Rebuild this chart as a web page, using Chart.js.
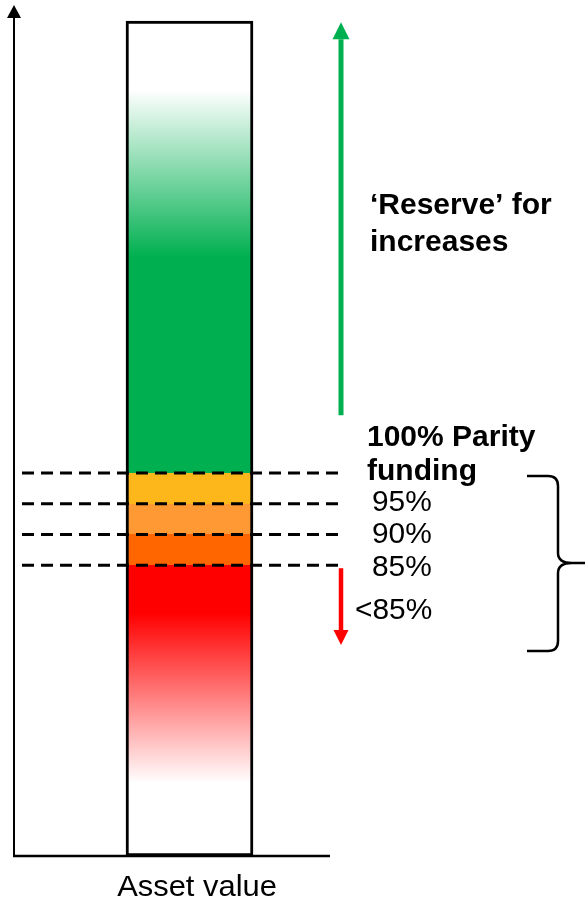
<!DOCTYPE html>
<html>
<head>
<meta charset="utf-8">
<script src="https://cdn.jsdelivr.net/npm/chart.js@4"></script>
<style>
  html, body { margin: 0; padding: 0; background: #fff; }
  #wrap { width: 585px; height: 899px; position: relative; }
</style>
</head>
<body>
<div id="wrap"><canvas id="assetChart"></canvas></div>
<script>
// bar: asset value, expressed as % of parity funding
let categories = ['Asset value'];
let barRange = [37.7, 173.5];
let axisRange = [37.7, 176.1];

// funding levels drawn as dashed lines
let fundingLevels = [100, 95, 90, 85];
let fundingLabels = ['95%', '90%', '85%'];

// colour stops of the bar fill (value -> colour)
let fillStops  = [173.5, 162.3, 135.1, 100, 100, 95, 95, 90, 90, 85, 85, 77.2, 49.6, 37.7];
let fillColors = ['#ffffff', '#ffffff', '#00b050', '#00b050',
                  '#fdb71a', '#fdb71a', '#ff9933', '#ff9933',
                  '#ff6600', '#ff6600', '#ff0000', '#ff0000',
                  '#ffffff', '#ffffff'];

// arrows (from, to)
let reserveArrow = [109.4, 173.3];
let deficitArrow = [84.5, 72.0];

function barFill(context){
    let chart = context.chart;
    let area = chart.chartArea;
    if(!area || !chart.scales.y){
        return '#00b050';
    }
    let y = chart.scales.y;
    let yTop = y.getPixelForValue(fillStops[0]);
    let yBot = y.getPixelForValue(fillStops[fillStops.length - 1]);
    let g = chart.ctx.createLinearGradient(0, yTop, 0, yBot);
    for(let i = 0; i < fillStops.length; i++){
        let off = (y.getPixelForValue(fillStops[i]) - yTop) / (yBot - yTop);
        g.addColorStop(Math.min(1, Math.max(0, off)), fillColors[i]);
    }
    return g;
}

function drawText(ctx, str, x, y, font, sx, align){
    ctx.save();
    ctx.font = font;
    ctx.fillStyle = '#000';
    ctx.textAlign = align || 'left';
    ctx.textBaseline = 'alphabetic';
    ctx.translate(x, y);
    ctx.scale(sx, 1);
    ctx.fillText(str, 0, 0);
    ctx.restore();
}

function drawArrow(ctx, x, y0, y1, color, w, headW, headL){
    let dir = y1 < y0 ? -1 : 1;
    ctx.save();
    ctx.strokeStyle = color;
    ctx.fillStyle = color;
    ctx.lineWidth = w;
    ctx.beginPath();
    ctx.moveTo(x, y0);
    ctx.lineTo(x, y1 - dir * headL);
    ctx.stroke();
    ctx.beginPath();
    ctx.moveTo(x, y1);
    ctx.lineTo(x - headW / 2, y1 - dir * headL);
    ctx.lineTo(x + headW / 2, y1 - dir * headL);
    ctx.closePath();
    ctx.fill();
    ctx.restore();
}

let annotationPlugin = {
    id: 'annotations',
    afterDatasetsDraw(chart){
        let ctx = chart.ctx;
        let area = chart.chartArea;
        let y = chart.scales.y;

        // axes
        ctx.save();
        ctx.strokeStyle = '#000';
        ctx.lineWidth = 2;
        ctx.beginPath();
        ctx.moveTo(area.left, area.bottom);
        ctx.lineTo(area.left, area.top + 10);
        ctx.stroke();
        ctx.beginPath();
        ctx.moveTo(area.left, area.top);
        ctx.lineTo(area.left - 7, area.top + 13);
        ctx.lineTo(area.left + 7, area.top + 13);
        ctx.closePath();
        ctx.fillStyle = '#000';
        ctx.fill();
        ctx.lineWidth = 2.5;
        ctx.beginPath();
        ctx.moveTo(area.left - 1, area.bottom);
        ctx.lineTo(330, area.bottom);
        ctx.stroke();

        // dashed funding lines
        ctx.setLineDash([12, 7]);
        ctx.lineWidth = 3;
        for(let i = 0; i < fundingLevels.length; i++){
            let py = y.getPixelForValue(fundingLevels[i]);
            ctx.beginPath();
            ctx.moveTo(22, py);
            ctx.lineTo(340, py);
            ctx.stroke();
        }
        ctx.restore();

        // arrows
        drawArrow(ctx, 341, y.getPixelForValue(reserveArrow[0]), y.getPixelForValue(reserveArrow[1]), '#00b050', 5, 17, 17);
        drawArrow(ctx, 341, y.getPixelForValue(deficitArrow[0]), y.getPixelForValue(deficitArrow[1]), '#ff0000', 4.5, 15, 15);

        // labels
        let bold = 'bold 30px "Liberation Sans", Arial, sans-serif';
        let norm = '29px "Liberation Sans", Arial, sans-serif';
        drawText(ctx, '\u2018Reserve\u2019 for', 370, 214, bold, 1.0);
        drawText(ctx, 'increases', 370, 251, bold, 1.0);
        drawText(ctx, '100% Parity', 367, 446, bold, 1.0);
        drawText(ctx, 'funding', 367, 480, bold, 1.0);
        let labelY = [511, 543, 576];
        for(let i = 0; i < fundingLabels.length; i++){
            drawText(ctx, fundingLabels[i], 372, labelY[i], norm, 1.03);
        }
        drawText(ctx, '<85%', 355, 619, norm, 1.03);
        drawText(ctx, categories[0], 197, 896, '30px "Liberation Sans", Arial, sans-serif', 1.03, 'center');

        // curly brace
        ctx.save();
        ctx.strokeStyle = '#000';
        ctx.lineWidth = 2.5;
        ctx.beginPath();
        ctx.moveTo(527, 476);
        ctx.lineTo(548, 476);
        ctx.quadraticCurveTo(558, 476, 558, 486);
        ctx.lineTo(558, 553);
        ctx.quadraticCurveTo(558, 563, 572, 563);
        ctx.lineTo(586, 563);
        ctx.moveTo(572, 563);
        ctx.quadraticCurveTo(558, 563, 558, 573);
        ctx.lineTo(558, 641);
        ctx.quadraticCurveTo(558, 651, 548, 651);
        ctx.lineTo(527, 651);
        ctx.stroke();
        ctx.restore();
    }
};

new Chart(document.getElementById('assetChart'), {
    type: 'bar',
    data: {
        labels: categories,
        datasets: [{
            data: [barRange],
            backgroundColor: barFill,
            borderColor: '#000',
            borderWidth: 3,
            borderSkipped: false,
            barThickness: 127
        }]
    },
    options: {
        responsive: true,
        maintainAspectRatio: false,
        animation: false,
        layout: { padding: { left: 14, right: 220, top: 5, bottom: 43 } },
        scales: {
            x: { display: false },
            y: { display: false, min: axisRange[0], max: axisRange[1] }
        },
        plugins: {
            legend: { display: false },
            tooltip: { enabled: false }
        }
    },
    plugins: [annotationPlugin]
});
</script>
</body>
</html>
